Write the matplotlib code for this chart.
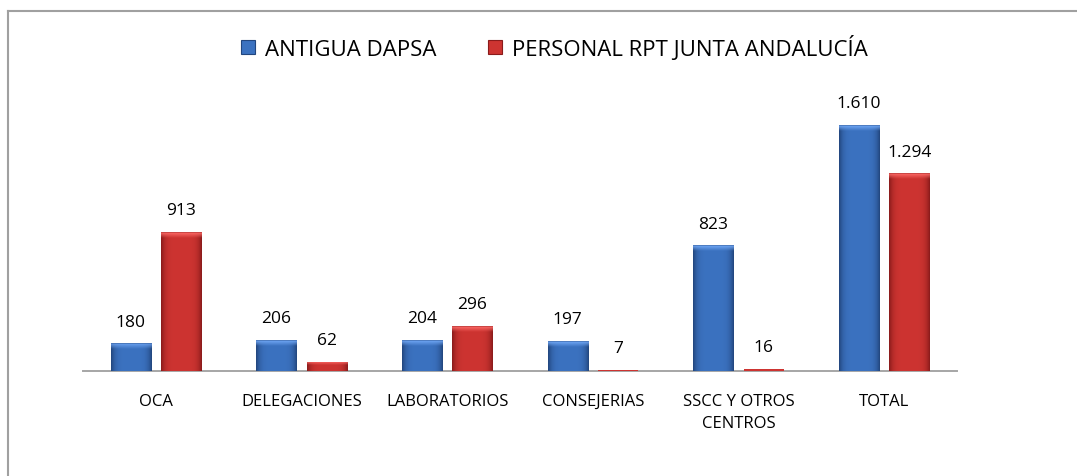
import numpy as np
import matplotlib
matplotlib.use("Agg")
import matplotlib.pyplot as plt
from matplotlib.lines import Line2D
from matplotlib.colors import to_rgb

plt.rcParams['font.family'] = ['Open Sans', 'DejaVu Sans']

categories = ['OCA', 'DELEGACIONES', 'LABORATORIOS', 'CONSEJERIAS',
              'SSCC Y OTROS\nCENTROS', 'TOTAL']
antigua_dapsa = [180, 206, 204, 197, 823, 1610]
personal_rpt = [913, 62, 296, 7, 16, 1294]
series_names = ['ANTIGUA DAPSA', 'PERSONAL RPT JUNTA ANDALUCÍA']

BLUE = '#3b72c0'
BLUE_EDGE = '#22467e'
RED = '#cd3431'
RED_EDGE = '#8a1b1b'

YMAX = 2042
PX_PER_UNIT = (372 - 60) / YMAX


def fmt(v):
    return '{:,}'.format(v).replace(',', '.')


def bevel_bar(ax, x, w, h, base, edge):
    bar = ax.bar(x, h, w, color=base, linewidth=0, zorder=2)[0]
    if h * PX_PER_UNIT < 8:
        # too thin for any shading, a plain sliver
        return
    # horizontal shading: darker at the sides, light in the middle
    c0 = np.array(to_rgb(base))
    c1 = np.array(to_rgb(edge))
    t = np.linspace(0, 1, 60)
    prof = np.abs(2 * t - 1) ** 5
    row = c0[None, :] * (1 - prof[:, None]) + c1[None, :] * prof[:, None]
    img = row[None, :, :]
    im = ax.imshow(img, extent=(x - w / 2, x + w / 2, 0, h), aspect='auto',
                   zorder=3, interpolation='bilinear')
    im.set_clip_path(bar)
    # top bevel highlight
    th = min(6 / PX_PER_UNIT, h * 0.4)
    light = np.clip(c0 + 0.22, 0, 1)
    v = np.linspace(0, 1, 20)[:, None, None]
    top = light[None, None, :] * (1 - v) + row[None, :, :] * v
    im2 = ax.imshow(top, extent=(x - w / 2, x + w / 2, h - th, h), aspect='auto',
                    zorder=4, interpolation='bilinear', origin='upper')
    im2.set_clip_path(bar)
    if h * PX_PER_UNIT > 10:
        ax.plot([x - w / 2, x + w / 2], [h, h], color=c1, lw=0.6, zorder=5, alpha=0.5)


fig = plt.figure(figsize=(10.77, 4.77), dpi=100)
ax = fig.add_axes([83 / 1077, 1 - 372 / 477, (957 - 83) / 1077, (372 - 60) / 477])

x = np.arange(len(categories))
w = 0.275
off = 0.172
for i in range(len(categories)):
    bevel_bar(ax, x[i] - off, w, antigua_dapsa[i], BLUE, BLUE_EDGE)
    bevel_bar(ax, x[i] + off, w, personal_rpt[i], RED, RED_EDGE)
    ax.annotate(fmt(antigua_dapsa[i]), (x[i] - off, antigua_dapsa[i]),
                xytext=(0, 15.5), textcoords='offset points', ha='center',
                va='center', fontsize=12.5)
    ax.annotate(fmt(personal_rpt[i]), (x[i] + off, personal_rpt[i]),
                xytext=(0, 15.5), textcoords='offset points', ha='center',
                va='center', fontsize=12.5)

ax.set_xlim(-0.5, len(categories) - 0.5)
ax.set_ylim(0, YMAX)
ax.set_xticks(x)
ax.set_xticklabels(categories, fontsize=12, linespacing=1.45)
ax.tick_params(axis='x', length=0, pad=16)
ax.set_yticks([])
for s in ['top', 'right', 'left']:
    ax.spines[s].set_visible(False)
ax.spines['bottom'].set_color('#a6a6a6')
ax.spines['bottom'].set_linewidth(1.4)
ax.spines['bottom'].set_zorder(1)

handles = [Line2D([], [], marker='s', linestyle='none', markersize=10,
                  markerfacecolor=BLUE, markeredgecolor=BLUE_EDGE, markeredgewidth=0.8),
           Line2D([], [], marker='s', linestyle='none', markersize=10,
                  markerfacecolor=RED, markeredgecolor=RED_EDGE, markeredgewidth=0.8)]
fig.legend(handles, series_names, loc='center', bbox_to_anchor=(554 / 1077, 1 - 48 / 477),
           ncol=2, frameon=False, fontsize=16, handlelength=0.7,
           handletextpad=0.4, columnspacing=2.3)

# outer chart frame (cut at right and bottom)
fig.add_artist(Line2D([8 / 1077, 1], [1 - 12 / 477, 1 - 12 / 477], color='#a0a0a0', lw=1.5))
fig.add_artist(Line2D([8 / 1077, 8 / 1077], [0, 1 - 12 / 477], color='#a0a0a0', lw=1.5))

fig.savefig('out.png', dpi=100)
